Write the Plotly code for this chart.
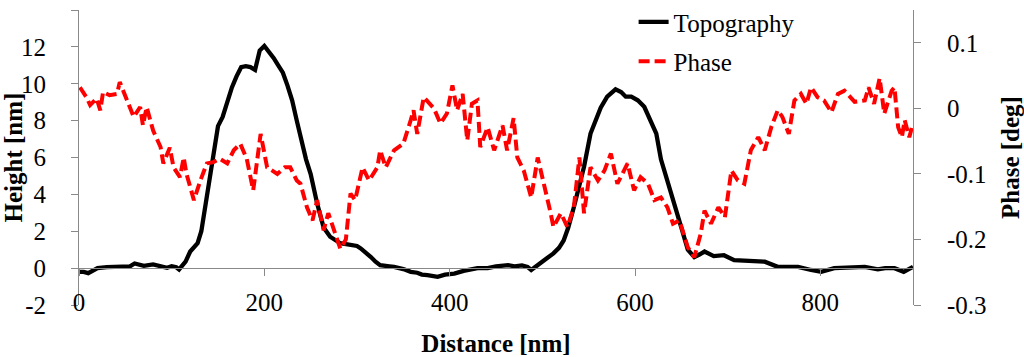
import plotly.graph_objects as go

# ---- data ----
topo_x = [0, 5, 10, 15, 20, 30, 40, 50, 55, 60, 65, 70, 80, 85, 90, 95, 100, 105, 108, 112,
          115, 120, 128, 132, 135, 140, 145, 150, 155, 160, 165, 170, 175, 180, 185, 190, 195,
          200, 205, 210, 215, 220, 225, 230, 235, 240, 245, 250, 257, 264, 271, 282, 293, 300,
          304, 310, 315, 320, 325, 335, 340, 350, 358, 365, 370, 376, 387, 395, 405, 415, 423,
          430, 441, 450, 463, 470, 478, 484, 488, 495, 502, 512, 518, 523, 528, 534, 540, 545,
          552, 558, 563, 570, 575, 579, 585, 590, 596, 603, 610, 617, 623, 628, 636, 643, 650,
          657, 664, 670, 675, 685, 696, 707, 715, 725, 740, 754, 765, 776, 790, 801, 815, 830,
          848, 862, 870, 880, 890, 900]
topo_h = [-0.2, -0.2, -0.27, -0.1, 0.0, 0.05, 0.08, 0.12, 0.1, 0.25, 0.2, 0.12, 0.2, 0.15, 0.05,
          0.02, 0.1, 0.05, -0.07, 0.15, 0.35, 0.9, 1.35, 2.0, 3.0, 4.6, 6.0, 7.7, 8.2, 9.1, 9.8,
          10.4, 10.9, 10.95, 10.9, 10.75, 11.8, 12.05, 11.75, 11.4, 11.0, 10.6, 9.9, 9.1, 8.0,
          6.9, 5.9, 5.1, 3.5, 2.2, 1.7, 1.35, 1.25, 1.2, 1.07, 0.85, 0.6, 0.35, 0.16, 0.1, 0.07,
          -0.05, -0.2, -0.25, -0.35, -0.38, -0.47, -0.35, -0.3, -0.15, -0.07, 0.0, 0.0, 0.1,
          0.16, 0.1, 0.15, 0.07, -0.1, 0.2, 0.43, 0.8, 1.1, 1.5, 2.2, 3.3, 4.4, 5.5, 7.3, 8.1,
          8.7, 9.3, 9.55, 9.7, 9.55, 9.3, 9.3, 9.1, 8.75, 8.0, 7.3, 5.9, 4.6, 3.5, 2.2, 1.0, 0.6,
          0.75, 0.9, 0.65, 0.7, 0.43, 0.4, 0.35, 0.35, 0.07, 0.05, 0.07, -0.1, -0.2, 0.0, 0.02,
          0.07, -0.07, 0.0, 0.0, -0.2, 0.07]

phase_x = [1, 8, 12, 19, 23, 26, 33, 41, 44, 52, 59, 66, 69, 73, 80, 88, 91, 98, 102, 109, 113,
           116, 124, 131, 138, 145, 152, 160, 167, 174, 181, 188, 196, 203, 214, 222, 228, 235,
           239, 246, 252, 257, 264, 269, 275, 282, 288, 293, 298, 306, 313, 322, 325, 331, 340,
           350, 358, 361, 365, 372, 383, 390, 397, 403, 408, 414, 419, 424, 430, 433, 441, 448,
           457, 462, 469, 473, 480, 488, 495, 502, 509, 512, 520, 527, 534, 540, 545, 552, 560,
           567, 574, 581, 592, 599, 606, 614, 621, 628, 635, 641, 648, 657, 664, 671, 675, 682,
           690, 697, 704, 711, 718, 725, 733, 740, 747, 754, 759, 766, 772, 779, 785, 790, 797,
           804, 812, 819, 826, 837, 848, 852, 858, 864, 869, 877, 880, 884, 888, 891, 896, 900]
phase_deg = [0.032, 0.017, 0.005, 0.015, -0.003, 0.025, 0.02, 0.022, 0.04, 0.012, -0.013, 0.002,
             -0.026, 0.002, -0.034, -0.059, -0.084, -0.06, -0.09, -0.105, -0.075, -0.1, -0.14,
             -0.11, -0.084, -0.082, -0.077, -0.084, -0.064, -0.054, -0.077, -0.125, -0.039,
             -0.09, -0.1, -0.09, -0.09, -0.11, -0.115, -0.151, -0.171, -0.14, -0.186, -0.16,
             -0.186, -0.214, -0.2, -0.13, -0.14, -0.09, -0.11, -0.09, -0.064, -0.09, -0.064,
             -0.054, -0.018, -0.003, -0.039, 0.017, 0.0, -0.023, -0.008, 0.035, -0.003, 0.022,
             -0.049, 0.007, 0.012, -0.059, -0.029, -0.064, -0.026, -0.064, -0.015, -0.075,
             -0.095, -0.136, -0.075, -0.115, -0.16, -0.181, -0.16, -0.181, -0.151, -0.075,
             -0.16, -0.09, -0.11, -0.095, -0.069, -0.115, -0.084, -0.125, -0.105, -0.115,
             -0.14, -0.136, -0.151, -0.176, -0.171, -0.212, -0.227, -0.191, -0.156, -0.176,
             -0.151, -0.166, -0.095, -0.11, -0.115, -0.064, -0.044, -0.064, -0.029, -0.003,
             -0.013, -0.039, 0.012, 0.022, 0.007, 0.032, 0.017, 0.012, -0.006, 0.022, 0.027,
             0.01, 0.012, 0.032, 0.007, 0.046, -0.008, 0.027, 0.032, -0.029, -0.044, -0.018,
             -0.044, -0.023]

x_ticks = [0, 200, 400, 600, 800]
x_ticktext = ["0", "200", "400", "600", "800"]
h_ticks = [-2, 0, 2, 4, 6, 8, 10, 12, 14]
h_ticktext = ["-2", "0", "2", "4", "6", "8", "10", "12", "14"]
p_ticks = [-0.3, -0.2, -0.1, 0, 0.1]
p_ticktext = ["-0.3", "-0.2", "-0.1", "0", "0.1"]

AXIS_GRAY = "#898989"
FONT = "Liberation Serif"
FS = 25


def serif(size=FS):
    return dict(family=FONT, size=size, color="black")


fig = go.Figure()
fig.add_trace(go.Scatter(x=topo_x, y=topo_h, mode="lines", name="Topography",
                         line=dict(color="black", width=4.3), xaxis="x", yaxis="y",
                         legendgroup="a"))
fig.add_trace(go.Scatter(x=phase_x, y=phase_deg, mode="lines", name="Phase",
                         line=dict(color="#ff0000", width=4, dash="11px,5px"),
                         xaxis="x2", yaxis="y2", legendgroup="b"))

fig.update_layout(
    width=1024, height=357, autosize=False,
    margin=dict(l=79, r=111, t=10, b=52, pad=0, autoexpand=False),
    paper_bgcolor="white", plot_bgcolor="white",
    font=serif(),
    showlegend=True,
    legend=dict(x=0.665, xanchor="left", y=1.037, yanchor="top", bgcolor="rgba(0,0,0,0)",
                borderwidth=0, tracegroupgap=4, font=serif()),
    xaxis=dict(range=[0, 900], anchor="free", position=0.125, showline=True,
               linecolor=AXIS_GRAY, linewidth=1, ticks="outside", ticklen=7,
               tickcolor=AXIS_GRAY, tickwidth=1, tickvals=x_ticks, showticklabels=False,
               showgrid=False, zeroline=False, automargin=False),
    xaxis2=dict(range=[0, 900], overlaying="x", anchor="free", position=0.068, side="bottom",
                showline=False, ticks="", tickvals=x_ticks, ticktext=x_ticktext,
                showgrid=False, zeroline=False, tickfont=serif(), automargin=False,
                title=dict(text="<b>Distance [nm]</b>", font=serif(), standoff=21)),
    yaxis=dict(range=[-2, 14], tickvals=h_ticks, ticktext=h_ticktext, showline=True,
               linecolor=AXIS_GRAY, linewidth=1, ticks="outside", ticklen=7,
               tickcolor=AXIS_GRAY, showgrid=False, zeroline=False, automargin=False,
               tickfont=serif(), ticklabelstandoff=20,
               title=dict(text="<b>Height [nm]</b>", font=serif(), standoff=3)),
    yaxis2=dict(range=[-0.3, 0.15], overlaying="y", side="right", anchor="x2",
                tickvals=p_ticks, ticktext=p_ticktext, showline=True,
                linecolor=AXIS_GRAY, linewidth=1, ticks="outside", ticklen=7,
                tickcolor=AXIS_GRAY, showgrid=False, zeroline=False, automargin=False,
                tickfont=serif(), ticklabelstandoff=21,
                title=dict(text="<b>Phase [deg]</b>", font=serif(), standoff=19)),
)

fig.write_html("out.html", config={"displayModeBar": False},
               post_script="document.body.style.margin='0px';")
